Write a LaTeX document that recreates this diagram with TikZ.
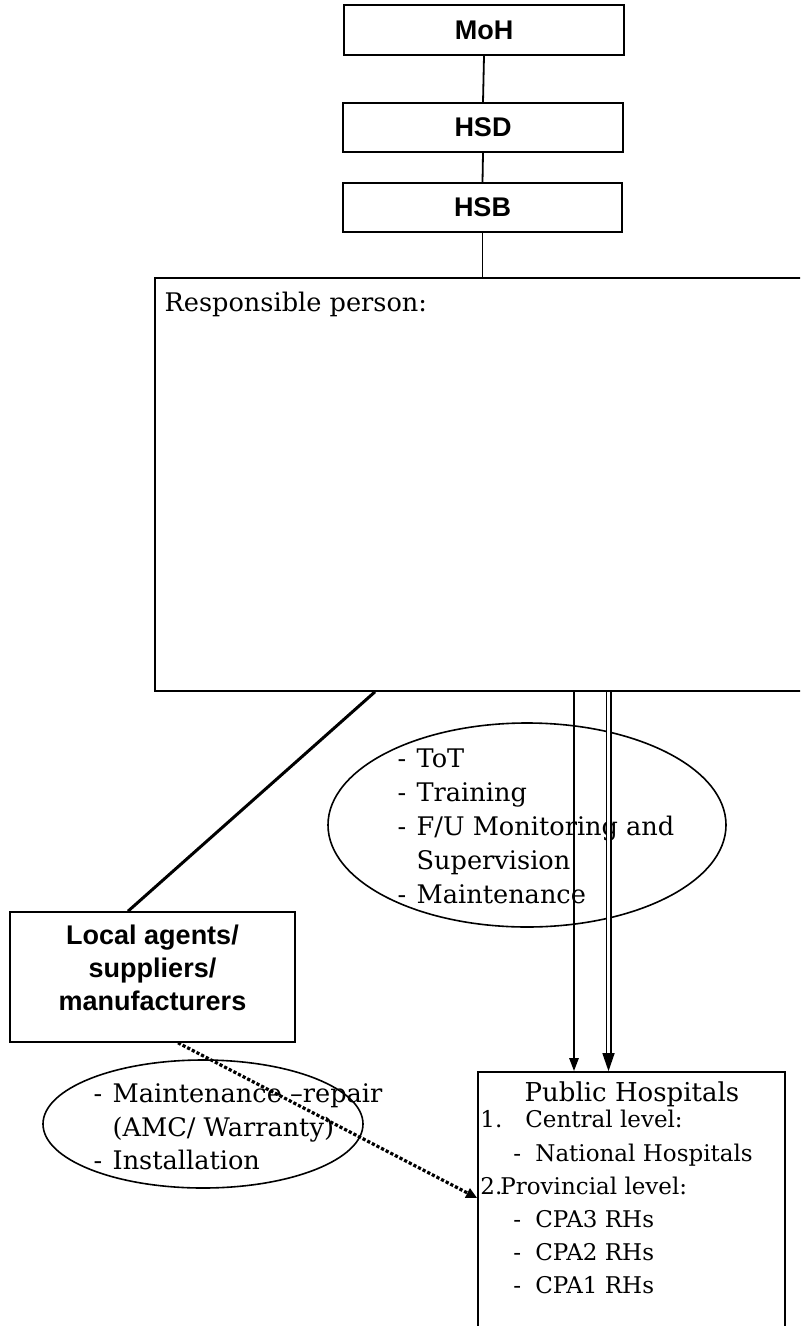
\documentclass[tikz,border=0pt]{standalone}
\usepackage{fontspec}
\setmainfont{DejaVu Serif}
\newfontfamily\boxfont{Liberation Sans}
\usetikzlibrary{positioning,arrows.meta,shapes.geometric,calc}

\newcommand{\dashitem}[1]{\makebox[9.5pt][l]{-}#1}
\newcommand{\hangitem}[1]{\hspace{9.5pt}#1}

\begin{document}
\begin{tikzpicture}[x=0.5pt, y=-0.5pt,
  orgbox/.style={draw, line width=0.8pt, inner sep=0pt},
  orgtext/.style={font=\boxfont\bfseries\fontsize{13.5}{16.5}\selectfont, align=center, inner sep=0pt},
  txt/.style={font=\fontsize{12.8}{17}\selectfont, inner sep=0pt, align=left},
  listtxt/.style={font=\fontsize{11.5}{16.6}\selectfont, inner sep=0pt, align=left},
  oval/.style={ellipse, draw, line width=0.8pt, inner sep=0pt},
  link/.style={draw, line width=0.9pt},
  thicklink/.style={draw, line width=1.5pt},
  arrowline/.style={draw, line width=1.2pt, -{Triangle[width=4.5pt,length=6.5pt]}},
  dblarrow/.style={draw, line width=0.7pt, double, double distance=1.6pt, -{Triangle[width=6pt,length=9pt]}},
  dotarrow/.style={draw, line width=1.6pt, dash pattern=on 1.6pt off 1pt, -{Triangle[width=5pt,length=5.5pt]}}
]
\clip (0,0) rectangle (800,1326);
\useasboundingbox (0,0) rectangle (800,1326);

% top of the chain
\node[orgbox, orgtext, minimum width=140pt, minimum height=25pt] (moh) at (484,30) {MoH};
\node[orgbox, orgtext, minimum width=140pt, minimum height=24.5pt] (hsd) at (483,127.5) {HSD};
\node[orgbox, orgtext, minimum width=139.5pt, minimum height=24.5pt] (hsb) at (482.5,207.5) {HSB};

\node[orgbox, minimum width=335pt, minimum height=206.5pt] (resp) at (490,484.5) {};
\node[txt, anchor=north west] (resptitle) at ([xshift=5pt,yshift=-7pt]resp.north west) {Responsible person:};

% suppliers
\node[orgbox, minimum width=142.5pt, minimum height=65pt] (local) at (152.5,977) {};
\node[orgtext] (localtxt) at (152.5,968) {Local agents/\\suppliers/\\manufacturers};

% ellipses
\node[oval, minimum width=199pt, minimum height=102pt] (tot) at (527,825) {};
\node[txt] (tottxt) at (536,826) {\dashitem{ToT}\\\dashitem{Training}\\\dashitem{F/U Monitoring and}\\\hangitem{Supervision}\\\dashitem{Maintenance}};

\node[oval, minimum width=160pt, minimum height=64pt] (svc) at (203,1124) {};
\node[txt, font=\fontsize{12.8}{16.75}\selectfont] (svctxt) at (238,1127) {\dashitem{Maintenance --repair}\\\hangitem{(AMC/ Warranty)}\\\dashitem{Installation}};

% hospitals
\node[orgbox, minimum width=153.5pt, minimum height=140pt] (pub) at (631.5,1212) {};
\node[txt, font=\fontsize{13}{17}\selectfont] (pubtitle) at (632,1094) {Public Hospitals};
\node[listtxt, anchor=north west] (publist) at (480,1110) {\makebox[22.5pt][l]{1.}Central level:\\
  \hspace{16.5pt}\makebox[11pt][l]{-}National Hospitals\\
  \makebox[10pt][l]{2.}Provincial level:\\
  \hspace{16.5pt}\makebox[11pt][l]{-}CPA3 RHs\\
  \hspace{16.5pt}\makebox[11pt][l]{-}CPA2 RHs\\
  \hspace{16.5pt}\makebox[11pt][l]{-}CPA1 RHs};

% connectors
\coordinate (col1) at (574,0);
\coordinate (col2) at (608.5,0);
\coordinate (lnk1) at (375,0);
\coordinate (lnk2) at (128,0);
\coordinate (lnk3) at (178,0);
\coordinate (lnk4) at (0,1198);

\draw[link] (moh.south) -- (hsd.north);
\draw[link] (hsd.south) -- (hsb.north);
\draw[link] (hsb.south) -- (hsb.south |- resp.north);
\draw[thicklink] (lnk1 |- resp.south) -- (lnk2 |- local.north);
\draw[arrowline] (col1 |- resp.south) -- (col1 |- pub.north);
\draw[dblarrow] (col2 |- resp.south) -- (col2 |- pub.north);
\draw[dotarrow] (lnk3 |- local.south) -- (pub.west |- lnk4);

\end{tikzpicture}
\end{document}
